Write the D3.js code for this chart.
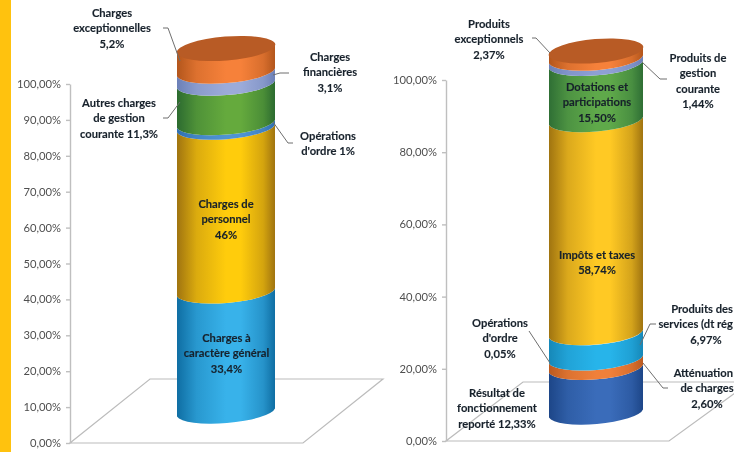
<!DOCTYPE html>
<html><head><meta charset="utf-8">
<script src="https://cdn.jsdelivr.net/npm/d3@7"></script>
<style>
html,body{margin:0;padding:0;background:#fff;overflow:hidden}
svg{display:block;filter:blur(.35px)}
text{font-family:Lato,"Open Sans",sans-serif}
.lbl{font-weight:700;font-size:11.2px;fill:#17212b;stroke:#17212b;stroke-width:.12px;text-anchor:middle}
.ax text{font-size:11.2px;fill:#4f4f4f}
</style></head><body><svg id="c" width="734" height="452"></svg>
<script>
// ---- data ----
// left stack: band heights as read from the drawn cylinder
const leftValues = [33, 45, 1.25, 10.85, 3.3, 6.6];
const leftTicks = [0,10,20,30,40,50,60,70,80,90,100];
const rightValues = [12.33, 2.60, 6.97, 0.05, 58.74, 15.50, 1.44, 2.37];
const rightTicks = [0,20,40,60,80,100];
const leftCategories = ["Charges à caractère général","Charges de personnel","Opérations d'ordre","Autres charges de gestion courante","Charges financières","Charges exceptionnelles"];
const rightCategories = ["Résultat de fonctionnement reporté","Atténuation de charges","Produits des services (dt régie)","Opérations d'ordre","Impôts et taxes","Dotations et participations","Produits de gestion courante","Produits exceptionnels"];
const leftLabelLines = [
 ["Charges à","caractère général","33,4%"],["Charges de","personnel","46%"],["Opérations","d'ordre 1%"],
 ["Autres charges","de gestion","courante 11,3%"],["Charges","financières","3,1%"],["Charges","exceptionnelles","5,2%"]];
const rightLabelLines = [
 ["Résultat de","fonctionnement","reporté 12,33%"],["Atténuation","de charges","2,60%"],["Produits des","services (dt rég","6,97%"],
 ["Opérations","d'ordre","0,05%"],["Impôts et taxes","58,74%"],["Dotations et","participations","15,50%"],
 ["Produits de","gestion","courante","1,44%"],["Produits","exceptionnels","2,37%"]];

// ---- colours: [edge, centre] ----
const leftColors = [["#0f6ea3","#38b2ea"],["#a07410","#ffcc0c"],["#2f6fb0","#4f94d4"],["#2c6b30","#65aa3d"],["#6c80b8","#9cabd9"],["#b3561c","#f6813a"]];
const rightColors = [["#1d4688","#3a6cba"],["#bb5a20","#f0803a"],["#1688b8","#27b4ea"],["#d8e8f2","#d8e8f2"],["#a07410","#ffc924"],["#2f6f35","#5fa94a"],["#6c80b8","#8ea0d4"],["#b3561c","#f6813a"]];
const topColor = "#b85b25";

// ---- layout ----
const leftPanel = {id:"L", values:leftValues, ticks:leftTicks, colors:leftColors, lines:leftLabelLines,
  axisX:70, axisY:[443,84], floor:[[70,443],[303,443],[383,379],[150,379]],
  barX:[177,275], barY:[412.5,48.5], tilt:4, ry:12,
  anchors:[[226.5,338],[226,204],[328,136],[119,103],[330,57],[112,13]],
  leaders:[null,null,[[293,143],[288,143],[273,122]],[[163,118],[168,118],[180,102]],[[289,73],[280,73],[273,75]],[[163,28],[168,28],[180,61]]],
  ends:{}};
const rightPanel = {id:"R", values:rightValues, ticks:rightTicks, colors:rightColors, lines:rightLabelLines,
  axisX:446, axisY:[441,80], floor:[[446,441],[669,441],[750,382],[523,382]],
  barX:[549,643], barY:[413.5,51], tilt:4, ry:12,
  anchors:[[497,393],[707,373],[706,309],[500,323],[597,255],[597,87],[698,58],[489,24]],
  leaders:[null,[[668,388],[663,388],[643,363]],[[656,324],[650,324],[640,345]],[[529,331],[550,363]],null,null,[[667,79],[660,79],[642,62]],[[532,38],[536,38],[550,53]]],
  ends:{1:[733,null,null],2:[733,733,null]}};

const svg = d3.select("#c");
const defs = svg.append("defs");
svg.append("rect").attr("x",0).attr("y",0).attr("width",11).attr("height",452).attr("fill","#ffc20e");

function drawPanel(p){
  const g = svg.append("g");
  g.append("path").attr("d", d3.line()(p.floor)+"Z").attr("fill","none").attr("stroke","#bcbcbc").attr("stroke-width",1.2);
  const yAxis = d3.scaleLinear().domain([0,100]).range(p.axisY);
  const ax = g.append("g").attr("class","ax").attr("transform",`translate(${p.axisX},0)`)
    .call(d3.axisLeft(yAxis).tickValues(p.ticks).tickSize(4).tickSizeOuter(0).tickPadding(5)
      .tickFormat(d=>d.toFixed(2).replace(".",",")+"%"));
  ax.selectAll("path,line").attr("stroke","#bfbfbf").attr("stroke-width",1.4);
  const yBar = d3.scaleLinear().domain([0,100]).range(p.barY);
  const [xL,xR] = p.barX, rx = (xR-xL)/2+0.5, t = p.tilt;
  const rot = -Math.atan2(2*t,xR-xL)*180/Math.PI;
  let acc = 0;
  p.values.forEach((v,i)=>{
    const y0 = yBar(acc), y1 = yBar(acc+v); acc += v;
    const id = `g${p.id}${i}`, [e,c] = p.colors[i];
    const gr = defs.append("linearGradient").attr("id",id);
    [[0,e],[.2,d3.interpolateRgb(e,c)(.62)],[.5,c],[.65,c],[.88,d3.interpolateRgb(e,c)(.55)],[1,e]]
      .forEach(s=>gr.append("stop").attr("offset",s[0]).attr("stop-color",s[1]));
    g.append("path").attr("fill",`url(#${id})`)
      .attr("d",`M${xL},${y0+t}A${rx},${p.ry} ${rot} 0 0 ${xR},${y0-t}L${xR},${y1-t}A${rx},${p.ry} ${rot} 0 1 ${xL},${y1+t}Z`);
  });
  g.append("ellipse").attr("cx",(xL+xR)/2).attr("cy",yBar(100)).attr("rx",rx).attr("ry",p.ry)
    .attr("transform",`rotate(${rot} ${(xL+xR)/2} ${yBar(100)})`).attr("fill",topColor);
  p.leaders.forEach(l=>{ if(l) g.append("path").attr("d",d3.line()(l)).attr("fill","none").attr("stroke","#6e6e6e").attr("stroke-width",1); });
  p.lines.forEach((lines,i)=>{
    const [ax0,ay] = p.anchors[i], en = p.ends[i];
    lines.forEach((s,k)=>{
      const t2 = g.append("text").attr("class","lbl").attr("dy","0.35em").attr("y",ay+k*15.4).text(s);
      if(en && en[k]!=null) t2.attr("x",en[k]).style("text-anchor","end");
      else t2.attr("x",ax0);
    });
  });
}
drawPanel(leftPanel);
drawPanel(rightPanel);
</script></body></html>
